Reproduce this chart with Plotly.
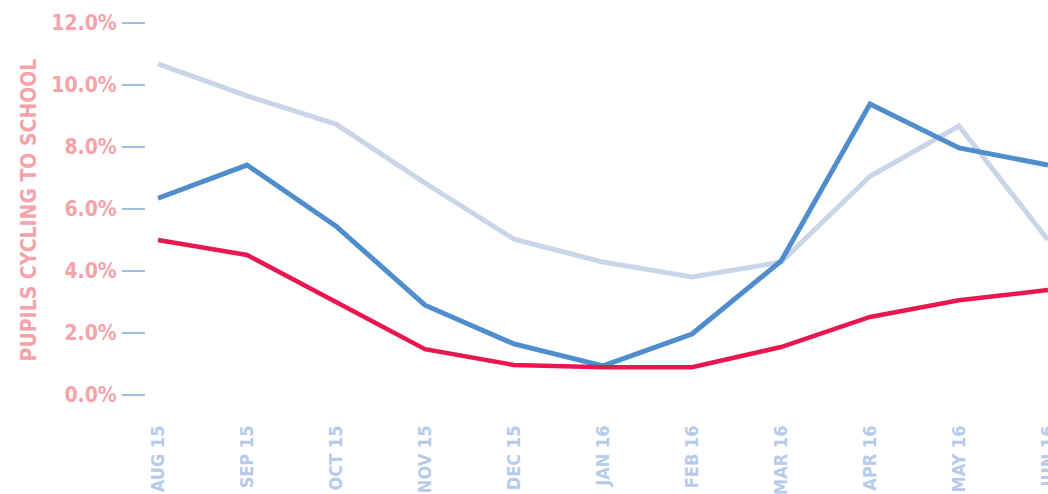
import plotly.graph_objects as go

months = ["AUG 15", "SEP 15", "OCT 15", "NOV 15", "DEC 15", "JAN 16",
          "FEB 16", "MAR 16", "APR 16", "MAY 16", "JUN 16"]
series_gray = [10.68, 9.65, 8.74, 6.84, 5.03, 4.29, 3.81, 4.29, 7.06, 8.68, 5.0]
series_blue = [6.35, 7.42, 5.45, 2.90, 1.65, 0.94, 1.97, 4.32, 9.39, 7.97, 7.42]
series_red = [5.00, 4.52, 3.00, 1.48, 0.97, 0.90, 0.90, 1.55, 2.52, 3.06, 3.39]
y_ticks = [0, 2, 4, 6, 8, 10, 12]
y_ticklabels = ["0.0%", "2.0%", "4.0%", "6.0%", "8.0%", "10.0%", "12.0%"]

FONT = "DejaVu Sans Condensed, sans-serif"
xs = list(range(len(months)))

def f(color, size=21):
    return dict(family=FONT, size=size, color=color, weight="bold")

fig = go.Figure()
fig.add_trace(go.Scatter(x=xs, y=series_gray, mode="lines",
                         line=dict(color="#cad5e7", width=5), hoverinfo="skip"))
fig.add_trace(go.Scatter(x=xs, y=series_blue, mode="lines",
                         line=dict(color="#4f8dcd", width=5), hoverinfo="skip"))
fig.add_trace(go.Scatter(x=xs, y=series_red, mode="lines",
                         line=dict(color="#e8174f", width=4.5), hoverinfo="skip"))

fig.update_layout(
    width=1048, height=494,
    margin=dict(l=146, r=0, t=10, b=84),
    paper_bgcolor="white", plot_bgcolor="white",
    showlegend=False,
    xaxis=dict(
        range=[-0.135, 10.0],
        tickmode="array", tickvals=xs, ticktext=months,
        tickangle=-90, showgrid=False, zeroline=False, showline=False,
        ticks="", automargin=False, ticklabelstandoff=11,
        ticklabeloverflow="allow",
        tickfont=f("#b6cae9", 18),
    ),
    yaxis=dict(
        range=[-0.48, 12.42],
        tickmode="array", tickvals=y_ticks, ticktext=y_ticklabels,
        showgrid=False, zeroline=False, showline=False,
        ticks="outside", ticklen=23, tickwidth=1.5, tickcolor="#9fc0e4",
        automargin=False, ticklabelstandoff=1,
        tickfont=f("#f4a3aa"),
        title=dict(text="PUPILS CYCLING TO SCHOOL", standoff=8, font=f("#f4a3aa")),
    ),
)

fig.write_html("out.html")
